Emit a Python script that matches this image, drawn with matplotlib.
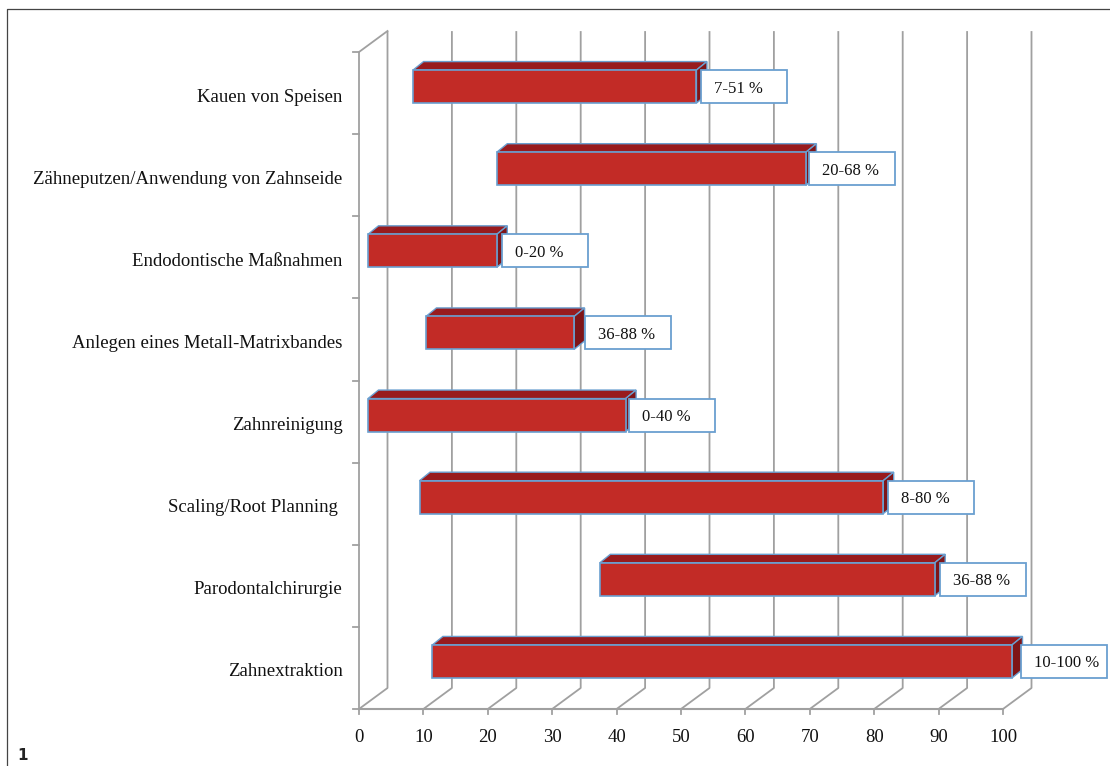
import matplotlib
matplotlib.use("Agg")
import matplotlib.pyplot as plt
from matplotlib.patches import Rectangle

categories = ["Zahnextraktion", "Parodontalchirurgie", "Scaling/Root Planning ", "Zahnreinigung",
              "Anlegen eines Metall-Matrixbandes", "Endodontische Maßnahmen",
              "Zähneputzen/Anwendung von Zahnseide", "Kauen von Speisen"]
starts = [10, 36, 8, 0, 9, 0, 20, 7]
ends = [100, 88, 80, 40, 32, 20, 68, 51]
value_labels = ["10-100 %", "36-88 %", "8-80 %", "0-40 %", "36-88 %", "0-20 %", "20-68 %", "7-51 %"]
x_ticks = list(range(0, 101, 10))

W, H = 1110, 766
RED = "#c22b26"
DARK_TOP = "#981b1e"
DARK_SIDE = "#7f1518"
EDGE = "#6a9fd0"
GRID = "#a0a0a0"
SERIF = "Liberation Serif"

fig = plt.figure(figsize=(W / 100, H / 100), dpi=100)

# axes is the front plane of the fake 3d box, everything is offset from there
left, right, top, bottom = 359, 1003, 52, 709
ax = fig.add_axes([left / W, 1 - bottom / H, (right - left) / W, (bottom - top) / H])
ax.set_xlim(0, 100)
ax.set_ylim(0, len(categories))
ax.axis("off")

px = 100 / (right - left)
py = len(categories) / (bottom - top)
depth_x, depth_y = 28.5 * px, 21 * py

# walls and grid
for v in x_ticks:
    ax.plot([v, v + depth_x, v + depth_x], [0, depth_y, len(categories) + depth_y - 1 * py],
            color=GRID, lw=1.3, clip_on=False, zorder=1)
    ax.plot([v, v], [0, -5 * py], color=GRID, lw=1.3, clip_on=False, zorder=1)
    ax.text(v, -29 * py, str(v), ha="center", va="center", family=SERIF, fontsize=13.5, color="#111111")
ax.plot([0, 100], [0, 0], color=GRID, lw=1.5, clip_on=False, zorder=1)
ax.plot([0, 0, depth_x], [0, len(categories), len(categories) + depth_y], color=GRID, lw=1.3,
        clip_on=False, zorder=1)
for i in range(len(categories) + 1):
    ax.plot([-6 * px, 0], [i, i], color=GRID, lw=1.3, clip_on=False, zorder=1)

# bars
bar_dx, bar_lift = 9 * px, 6.5 * py
bar_h = 33 * py
top_dx, top_dy = 10.5 * px, 8.5 * py
gaps = [9, 5, 5, 3, 11, 5, 3, 5]

for i, (s, e) in enumerate(zip(starts, ends)):
    x0 = s + bar_dx
    x1 = e + bar_dx
    yc = i + 0.5 + bar_lift
    y0, y1 = yc - bar_h / 2, yc + bar_h / 2
    ax.fill([x0, x0 + top_dx, x1 + top_dx, x1], [y1, y1 + top_dy, y1 + top_dy, y1], facecolor=DARK_TOP,
            edgecolor=EDGE, lw=1.0, clip_on=False, zorder=3)
    ax.fill([x1, x1 + top_dx, x1 + top_dx, x1], [y0, y0 + top_dy, y1 + top_dy, y1], facecolor=DARK_SIDE,
            edgecolor=EDGE, lw=1.0, clip_on=False, zorder=3)
    ax.barh(yc, e - s, left=x0, height=bar_h, color=RED, edgecolor=EDGE, lw=1.2, clip_on=False, zorder=4)

    box_x = x1 + gaps[i] * px
    ax.add_patch(Rectangle((box_x, y0), 86 * px, bar_h, facecolor="white", edgecolor=EDGE, lw=1.3,
                           clip_on=False, zorder=5))
    ax.text(box_x + 13 * px, yc - 2 * py, value_labels[i], ha="left", va="center", family=SERIF, fontsize=12,
            color="#111111", zorder=6)
    ax.text(-16.5 * px, i + 0.5 - 4 * py, categories[i], ha="right", va="center", family=SERIF, fontsize=13.5,
            color="#111111")

# page frame and figure number
fig.add_artist(plt.Line2D([7 / W, 7 / W, 1], [0, 1 - 9 / H, 1 - 9 / H], color="#444444", lw=0.9))
fig.text(17 / W, 1 - 755 / H, "1", family="DejaVu Sans", fontsize=11, fontweight="bold", ha="left", va="center",
         color="#222222")

fig.savefig("out.png", dpi=100)
